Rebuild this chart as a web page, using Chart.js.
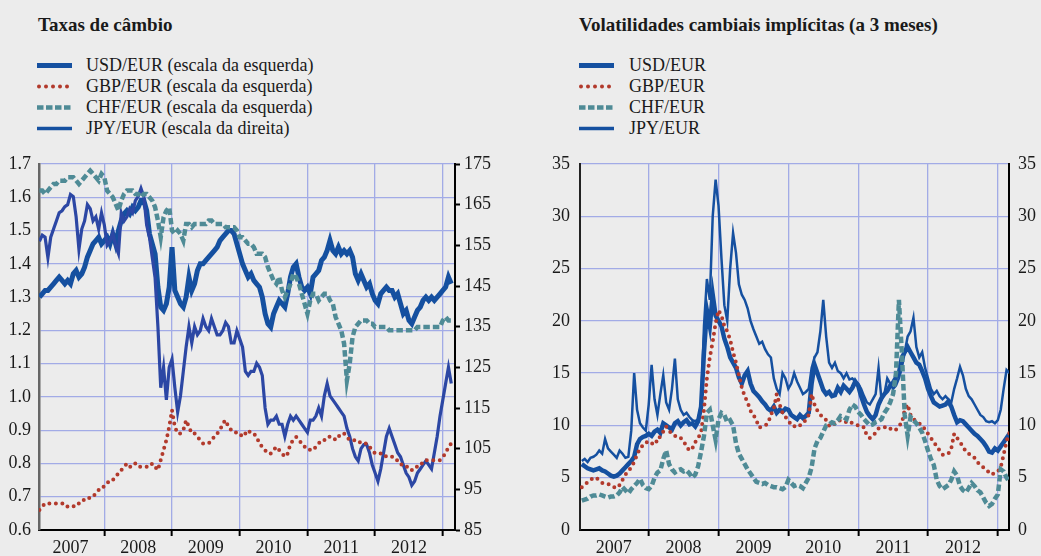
<!DOCTYPE html>
<html lang="pt">
  <head>
    <meta charset="UTF-8" />
    <title>Taxas de câmbio e volatilidades</title>
    <script src="https://cdn.jsdelivr.net/npm/chart.js"></script>
    <style>
      body {
        margin: 0;
        width: 1041px;
        height: 556px;
        overflow: hidden;
        background: #ececec;
        font-family: "Liberation Serif", "DejaVu Serif", serif;
        color: #1a1a1a;
        position: relative;
      }
      .title {
        position: absolute;
        top: 15px;
        font-weight: bold;
        font-size: 19px;
        line-height: 20px;
        white-space: nowrap;
      }
      .legend-row {
        position: absolute;
        height: 21px;
        line-height: 21px;
        font-size: 18px;
        white-space: nowrap;
      }
      .legend-row svg {
        position: absolute;
        left: 0;
        top: 0;
      }
      .legend-row span {
        position: absolute;
        top: 0;
      }
      canvas {
        position: absolute;
        top: 140px;
      }
    </style>
  </head>
  <body>
    <div class="title" style="left: 38px">Taxas de câmbio</div>
    <div class="title" style="left: 579px">Volatilidades cambiais implícitas (a 3 meses)</div>
    <div id="fxLegend"></div>
    <div id="volLegend"></div>
    <canvas id="fxChart" width="520" height="416" style="left: 0"></canvas>
    <canvas id="volChart" width="521" height="416" style="left: 520px"></canvas>

    <script>
      // half-monthly observations, starting mid-January 2007
      const years = [2007, 2008, 2009, 2010, 2011, 2012];
      const pointsPerYear = 24;

      const fxLabels = [
        "USD/EUR (escala da esquerda)",
        "GBP/EUR (escala da esquerda)",
        "CHF/EUR (escala da esquerda)",
        "JPY/EUR (escala da direita)",
      ];
      const volLabels = ["USD/EUR", "GBP/EUR", "CHF/EUR", "JPY/EUR"];

      const fxLeftTicks = [0.6, 0.7, 0.8, 0.9, 1.0, 1.1, 1.2, 1.3, 1.4, 1.5, 1.6, 1.7];
      const fxRightTicks = [85, 95, 105, 115, 125, 135, 145, 155, 165, 175];
      const volTicks = [0, 5, 10, 15, 20, 25, 30, 35];

      // taxas de câmbio
      const usdEur = [
        1.30, 1.31, 1.32, 1.32, 1.33, 1.34, 1.35, 1.36, 1.35, 1.34, 1.35, 1.34, 1.37, 1.38, 1.36, 1.37, 1.39, 1.42, 1.44, 1.46, 1.47, 1.48, 1.46, 1.47,
        1.48, 1.46, 1.49, 1.46, 1.50, 1.53, 1.55, 1.56, 1.55, 1.57, 1.56, 1.57, 1.59, 1.59, 1.56, 1.49, 1.46, 1.43, 1.33, 1.27, 1.26, 1.28, 1.33, 1.45,
        1.32, 1.30, 1.28, 1.27, 1.30, 1.36, 1.32, 1.34, 1.38, 1.40, 1.40, 1.41, 1.42, 1.43, 1.44, 1.45, 1.47, 1.48, 1.49, 1.50, 1.50, 1.49, 1.46, 1.43,
        1.40, 1.38, 1.36, 1.37, 1.35, 1.34, 1.33, 1.30, 1.25, 1.22, 1.21, 1.25, 1.27, 1.29, 1.28, 1.27, 1.31, 1.36, 1.39, 1.40, 1.36, 1.33, 1.32, 1.33,
        1.31, 1.36, 1.37, 1.38, 1.41, 1.42, 1.44, 1.47, 1.44, 1.43, 1.45, 1.43, 1.44, 1.43, 1.44, 1.42, 1.37, 1.35, 1.37, 1.35, 1.33, 1.34, 1.31, 1.29,
        1.28, 1.31, 1.32, 1.33, 1.32, 1.32, 1.30, 1.31, 1.28, 1.25, 1.26, 1.23, 1.22, 1.24, 1.26, 1.27, 1.29, 1.30, 1.29, 1.30, 1.29, 1.30, 1.31, 1.32,
        1.33, 1.36, 1.34,
      ];
      const gbpEur = [
        0.66, 0.67, 0.68, 0.68, 0.68, 0.68, 0.68, 0.68, 0.68, 0.68, 0.67, 0.67, 0.67, 0.68, 0.68, 0.69, 0.69, 0.69, 0.70, 0.70, 0.71, 0.72, 0.73, 0.73,
        0.74, 0.75, 0.75, 0.76, 0.77, 0.78, 0.79, 0.80, 0.79, 0.79, 0.80, 0.79, 0.79, 0.79, 0.79, 0.79, 0.80, 0.79, 0.78, 0.81, 0.84, 0.87, 0.91, 0.96,
        0.91, 0.89, 0.89, 0.90, 0.93, 0.91, 0.89, 0.89, 0.88, 0.87, 0.86, 0.86, 0.86, 0.87, 0.88, 0.89, 0.90, 0.92, 0.93, 0.91, 0.90, 0.90, 0.89, 0.89,
        0.88, 0.89, 0.90, 0.89, 0.89, 0.88, 0.86, 0.85, 0.84, 0.83, 0.83, 0.84, 0.85, 0.84, 0.83, 0.82, 0.83, 0.86, 0.87, 0.88, 0.87, 0.86, 0.85, 0.85,
        0.84, 0.84, 0.85, 0.86, 0.87, 0.87, 0.88, 0.88, 0.88, 0.87, 0.88, 0.89, 0.89, 0.88, 0.87, 0.87, 0.87, 0.87, 0.86, 0.86, 0.86, 0.85, 0.84, 0.83,
        0.83, 0.83, 0.83, 0.82, 0.82, 0.82, 0.81, 0.81, 0.80, 0.79, 0.79, 0.79, 0.78, 0.79, 0.79, 0.80, 0.80, 0.81, 0.81, 0.81, 0.81, 0.81, 0.81, 0.82,
        0.83, 0.85, 0.86,
      ];
      const chfEur = [
        1.62, 1.62, 1.61, 1.62, 1.63, 1.64, 1.64, 1.65, 1.65, 1.65, 1.66, 1.66, 1.66, 1.65, 1.64, 1.65, 1.66, 1.67, 1.68, 1.67, 1.66, 1.65, 1.67, 1.66,
        1.62, 1.61, 1.60, 1.58, 1.56, 1.59, 1.61, 1.62, 1.62, 1.62, 1.61, 1.61, 1.60, 1.61, 1.61, 1.60, 1.59, 1.57, 1.53, 1.48, 1.54, 1.56, 1.57, 1.50,
        1.49, 1.50, 1.49, 1.47, 1.52, 1.52, 1.51, 1.52, 1.52, 1.52, 1.52, 1.52, 1.53, 1.53, 1.52, 1.52, 1.52, 1.52, 1.51, 1.51, 1.51, 1.51, 1.50, 1.48,
        1.48, 1.47, 1.46, 1.46, 1.45, 1.43, 1.43, 1.43, 1.42, 1.39, 1.37, 1.35, 1.34, 1.36, 1.32, 1.30, 1.32, 1.34, 1.37, 1.36, 1.34, 1.31, 1.28, 1.25,
        1.29, 1.31, 1.31, 1.29, 1.30, 1.31, 1.31, 1.29, 1.28, 1.24, 1.22, 1.20, 1.16, 1.05, 1.10, 1.18, 1.21, 1.22, 1.23, 1.23, 1.23, 1.22, 1.22, 1.21,
        1.21, 1.21, 1.21, 1.21, 1.20, 1.20, 1.20, 1.20, 1.20, 1.20, 1.20, 1.20, 1.20, 1.20, 1.21, 1.21, 1.21, 1.21, 1.21, 1.21, 1.21, 1.21, 1.21, 1.23,
        1.24, 1.23, 1.23,
      ];
      const jpyEur = [
        156, 157.5, 157, 152, 157, 159, 161, 163, 163.5, 164.5, 165, 167.5, 167, 162, 154, 159, 161, 165, 164, 161, 162, 159, 163, 160,
        155, 156, 158, 155, 153, 163, 161, 162, 164, 163, 166, 167, 169, 167, 160, 157, 152, 147, 135, 120, 125, 117, 125, 127,
        120, 114, 118, 124, 130, 135, 131, 135, 133, 134, 137, 135, 134, 137, 135, 133, 133, 134, 136, 135, 131, 131, 134, 132,
        130, 124, 123, 124, 124, 126, 125, 123, 115, 111, 112, 112, 113, 111, 111, 108, 111, 113, 112, 113, 112, 111, 110, 109,
        112, 112, 113, 115, 113, 118, 121, 118, 117, 116, 115, 114, 113, 110, 108, 105, 103, 102, 105, 106, 106, 104, 101, 99,
        97, 100, 104, 108, 110, 108, 106, 104, 103, 101, 99, 98, 96, 97, 99, 100, 101, 102, 101, 100, 104, 108, 113, 117,
        121, 125, 121,
      ];

      // volatilidades implícitas a 3 meses (%)
      const volUsd = [
        6.3, 6.1, 5.9, 5.8, 5.7, 5.8, 5.9, 5.7, 5.6, 5.4, 5.2, 5.1, 5.2, 5.4, 5.7, 6.0, 6.3, 6.6, 7.0, 8.2, 8.7, 8.9, 9.0, 9.2,
        9.0, 9.4, 9.6, 9.3, 10.2, 10.0, 9.8, 9.6, 10.2, 10.4, 10.0, 10.3, 10.5, 10.1, 10.2, 9.9, 10.4, 11.8, 17.0, 21.0, 19.5, 22.5, 20.5, 20.0,
        19.5, 18.3, 17.5, 16.5, 16.0, 15.5, 14.6, 14.0, 14.8, 15.2, 14.0, 13.3, 13.0, 12.7, 12.3, 12.0, 11.6, 11.4, 11.8, 11.2, 11.5, 11.3, 11.6, 11.5,
        11.0, 10.8, 10.6, 11.0, 10.7, 10.9, 11.2, 14.0, 15.8, 15.0, 14.2, 13.4, 13.0, 13.2, 12.8, 12.9, 13.6, 13.2, 13.8, 13.5, 13.2, 13.6, 14.2, 13.8,
        12.8, 12.0, 11.3, 10.9, 10.6, 11.0, 12.0, 12.6, 13.0, 13.3, 13.8, 14.1, 14.6, 15.0, 16.5, 17.0, 17.5, 17.0, 16.5, 16.0, 15.8, 15.2, 14.5, 13.5,
        12.8, 12.2, 12.0, 11.8, 11.9, 12.0, 12.3, 11.8, 11.0, 10.3, 10.5, 10.4, 10.1, 9.8, 9.5, 9.2, 9.0, 8.7, 8.4, 8.0, 7.5, 7.4, 7.8, 7.6,
        8.0, 8.4, 8.8, 9.2,
      ];
      const volGbp = [
        4.1, 4.3, 4.6, 4.8, 5.0, 5.0, 4.7, 4.5, 4.5, 4.4, 4.3, 4.1, 4.0, 4.3, 4.8, 5.3, 5.6, 6.0, 6.5, 7.2, 7.8, 8.1, 8.4, 8.4,
        8.2, 8.6, 8.4, 9.0, 9.4, 9.9, 9.5, 9.2, 9.0, 9.0, 8.8, 8.5, 8.0, 7.6, 7.8, 8.4, 8.8, 9.3, 11.5, 14.5, 16.5, 18.0, 19.8, 21.0,
        20.5, 19.5, 19.0, 18.2, 17.0, 16.0, 14.8, 13.6, 12.8, 12.2, 11.4, 11.0, 10.5, 9.8, 9.9, 10.0, 10.2, 11.0, 11.6, 13.0, 12.0, 11.2, 10.8, 10.5,
        10.0, 9.9, 10.1, 10.0, 10.3, 10.5, 11.0, 13.0, 12.0, 11.4, 11.0, 10.8, 10.5, 10.0, 9.9, 10.2, 10.4, 10.5, 10.4, 10.3, 10.4, 10.2, 10.1, 10.0,
        10.0, 9.8, 9.0, 8.8, 9.0, 9.3, 9.7, 9.8, 9.8, 9.9, 9.7, 9.5, 9.6, 10.0, 10.2, 11.5, 12.0, 11.0, 10.6, 10.4, 10.2, 10.0, 9.6, 9.2,
        8.8, 8.4, 8.0, 7.6, 7.2, 7.2, 7.3, 7.8, 9.2, 8.8, 8.4, 8.0, 7.5, 7.3, 7.1, 6.9, 6.5, 6.2, 6.0, 5.8, 5.5, 5.3, 5.5, 5.6,
        6.0, 7.2, 8.5, 9.3,
      ];
      const volChf = [
        2.8, 2.9, 3.0, 3.2, 3.3, 3.3, 3.4, 3.3, 3.2, 3.1, 3.2, 3.2, 3.3, 3.6, 4.1, 3.8, 3.5, 3.9, 4.2, 4.5, 4.9, 4.3, 4.0, 3.9,
        4.2, 5.0, 5.5, 5.7, 6.8, 7.6, 6.3, 5.8, 5.5, 5.7, 5.8, 5.6, 5.7, 5.4, 5.0, 5.3, 6.1, 7.5, 9.0, 11.2, 11.5, 10.0, 8.6, 10.6,
        11.2, 11.0, 10.3, 10.5, 10.0, 8.3, 7.3, 6.8, 6.3, 5.8, 5.4, 5.0, 4.6, 4.5, 4.4, 4.5, 4.3, 4.2, 4.1, 4.1, 4.0, 3.9, 4.1, 4.8,
        4.5, 4.2, 4.3, 4.2, 4.0, 4.5, 5.0, 6.0, 7.8, 8.5, 8.8, 9.4, 10.0, 10.1, 10.3, 10.2, 10.5, 10.9, 10.8, 10.6, 11.5, 12.0, 11.8, 11.3,
        11.0, 10.6, 10.3, 10.0, 10.1, 10.3, 10.4, 10.6, 11.2, 11.6, 12.2, 13.0, 15.0, 22.0, 17.0, 11.0, 9.0, 10.8, 10.5, 10.2, 9.8, 9.3, 8.5, 7.6,
        6.8, 6.2, 4.8, 4.2, 3.9, 4.1, 4.3, 4.8, 5.6, 5.2, 4.2, 3.8, 3.6, 4.0, 4.5, 4.2, 3.8, 3.6, 3.1, 2.6, 2.3, 2.5, 3.0, 3.4,
        5.8, 5.6, 5.0, 4.6,
      ];
      const volJpy = [
        6.6, 6.8, 6.5, 6.9, 7.0, 7.2, 7.6, 7.3, 8.7, 7.8, 7.5, 7.2, 6.9, 7.6, 7.3, 6.9, 7.0, 9.5, 15.0, 11.5, 10.2, 9.8, 9.5, 12.0,
        15.8, 12.5, 11.0, 13.0, 14.8, 12.2, 11.5, 13.5, 16.4, 12.5, 11.5, 11.0, 11.2, 10.8, 10.5, 10.4, 10.6, 12.0, 19.5, 24.0, 22.0, 30.0, 33.5, 31.0,
        26.0, 21.5, 20.0, 25.0, 28.4, 26.5, 23.5, 22.5, 22.0, 21.2, 20.0, 19.2, 18.5, 17.8, 18.0, 17.3, 16.8, 16.5, 14.5, 13.5, 13.0, 15.0, 14.5, 13.5,
        14.0, 15.0, 14.2, 13.6, 13.0, 13.2, 13.5, 15.5, 16.5, 17.0, 19.0, 22.0, 18.5, 16.0, 15.5, 16.0, 15.2, 15.0, 14.5, 15.0, 14.4, 14.5, 14.2, 14.0,
        13.5, 12.8, 12.2, 12.0, 12.5, 13.0, 15.5, 12.5, 13.0, 14.5, 14.0, 13.5, 13.8, 14.5, 15.5, 17.0, 18.5, 19.0, 20.3, 17.5, 16.5, 17.0, 15.5, 14.5,
        13.5, 13.0, 13.3, 12.8, 12.5, 12.8, 12.5, 12.2, 13.5, 14.5, 15.6, 14.8, 13.5, 12.8, 12.5, 12.0, 11.5, 11.0, 10.8, 10.4, 10.3, 10.4, 10.2, 10.5,
        11.5, 13.5, 15.3, 15.0,
      ];

      const BLUE = "#1550a0";
      const JPY_BLUE = "#2c47a4";
      const RED = "#b23a2c";
      const TEAL = "#4f8b96";
      const GRID = "#a2abe6";
      const TEXT = "#1a1a1a";
      const FONT = { family: "'Liberation Serif', serif", size: 18 };

      function points(values) {
        return values.map((v, i) => ({ x: years[0] + (i + 1) / pointsPerYear, y: v }));
      }

      // legend swatches: [colour, width, dash, cap]
      const swatches = [
        [BLUE, 5, "", "butt"],
        [RED, 4, "0 7", "round"],
        [TEAL, 4.5, "6.5 2.5", "butt"],
        [BLUE, 3.5, "", "butt"],
      ];

      function buildLegend(el, labels, left, textLeft) {
        labels.forEach((label, i) => {
          const [col, w, dash, cap] = swatches[i];
          const row = document.createElement("div");
          row.className = "legend-row";
          row.style.left = left + "px";
          row.style.top = 55 + i * 21 + "px";
          const x1 = cap === "round" ? 2 : 0;
          row.innerHTML =
            `<svg width="36" height="21"><line x1="${x1}" y1="10.5" x2="35" y2="10.5" stroke="${col}" stroke-width="${w}"` +
            ` stroke-linecap="${cap}" stroke-dasharray="${dash}"/></svg>` +
            `<span style="left:${textLeft}px">${label}</span>`;
          el.appendChild(row);
        });
      }
      buildLegend(document.getElementById("fxLegend"), fxLabels, 37, 49);
      buildLegend(document.getElementById("volLegend"), volLabels, 579, 50);

      function yearAxis(min, max, height) {
        const isYear = (v) => Number.isInteger(v);
        return {
          type: "linear",
          position: "bottom",
          min: min,
          max: max,
          afterBuildTicks: (axis) => {
            const t = [];
            years.forEach((y) => {
              if (y >= min) t.push({ value: y });
              t.push({ value: y + 0.5 });
            });
            t.push({ value: years[years.length - 1] + 1 });
            axis.ticks = t;
          },
          afterFit: (axis) => {
            axis.height = height;
          },
          grid: {
            color: (c) => (c.tick && isYear(c.tick.value) ? GRID : "transparent"),
            tickColor: (c) => (c.tick && isYear(c.tick.value) ? "#000" : "transparent"),
            lineWidth: 1.3,
            tickLength: 6,
            tickWidth: 2,
          },
          border: { color: "#000", width: 2 },
          ticks: {
            autoSkip: false,
            maxRotation: 0,
            padding: 1,
            color: TEXT,
            font: FONT,
            callback: (v) => (isYear(v) ? "" : String(Math.floor(v))),
          },
        };
      }

      function fixedTicks(values) {
        return (axis) => {
          axis.ticks = values.map((v) => ({ value: v }));
        };
      }

      const commonOptions = {
        responsive: false,
        animation: false,
        events: [],
        plugins: { legend: { display: false }, tooltip: { enabled: false } },
        elements: { point: { radius: 0 }, line: { tension: 0 } },
      };

      new Chart(document.getElementById("fxChart"), {
        type: "line",
        data: {
          datasets: [
            { label: fxLabels[2], data: points(chfEur), yAxisID: "yL", borderColor: TEAL, borderWidth: 4.5, borderDash: [6.5, 3], order: 0 },
            { label: fxLabels[1], data: points(gbpEur), yAxisID: "yL", borderColor: RED, borderWidth: 4, borderDash: [0, 6.5], borderCapStyle: "round", order: 1 },
            { label: fxLabels[3], data: points(jpyEur), yAxisID: "yR", borderColor: JPY_BLUE, borderWidth: 3.2, order: 2 },
            { label: fxLabels[0], data: points(usdEur), yAxisID: "yL", borderColor: BLUE, borderWidth: 5, order: 3 },
          ],
        },
        options: {
          ...commonOptions,
          layout: { padding: { top: 24, left: 0, right: 0, bottom: 0 } },
          scales: {
            x: yearAxis(2007.035, 2013.18, 26),
            yL: {
              position: "left",
              min: 0.6,
              max: 1.7,
              afterBuildTicks: fixedTicks(fxLeftTicks),
              afterFit: (axis) => {
                axis.width = 39;
              },
              grid: { color: GRID, lineWidth: 1.3, drawTicks: false },
              border: { color: "#666", width: 2.5 },
              ticks: { padding: 8, color: TEXT, font: FONT, callback: (v) => v.toFixed(1) },
            },
            yR: {
              position: "right",
              min: 85,
              max: 175,
              afterBuildTicks: fixedTicks(fxRightTicks),
              afterFit: (axis) => {
                axis.width = 65;
              },
              grid: { drawOnChartArea: false, tickLength: 5, tickColor: "#000", tickWidth: 2 },
              border: { color: "#000", width: 2 },
              ticks: { padding: 4, color: TEXT, font: FONT },
            },
          },
        },
      });

      new Chart(document.getElementById("volChart"), {
        type: "line",
        data: {
          datasets: [
            { label: volLabels[2], data: points(volChf), yAxisID: "yL", borderColor: TEAL, borderWidth: 4.5, borderDash: [6.5, 3], order: 0 },
            { label: volLabels[1], data: points(volGbp), yAxisID: "yL", borderColor: RED, borderWidth: 4, borderDash: [0, 6.5], borderCapStyle: "round", order: 1 },
            { label: volLabels[3], data: points(volJpy), yAxisID: "yL", borderColor: BLUE, borderWidth: 2.5, order: 2 },
            { label: volLabels[0], data: points(volUsd), yAxisID: "yL", borderColor: BLUE, borderWidth: 4.5, order: 3 },
          ],
        },
        options: {
          ...commonOptions,
          layout: { padding: { top: 24, left: 0, right: 0, bottom: 0 } },
          scales: {
            x: yearAxis(2007.016, 2013.16, 26),
            yL: {
              position: "left",
              min: 0,
              max: 35,
              afterBuildTicks: fixedTicks(volTicks),
              afterFit: (axis) => {
                axis.width = 60;
              },
              grid: { color: GRID, lineWidth: 1.3, drawTicks: false },
              border: { color: "#222", width: 2 },
              ticks: { padding: 10, color: TEXT, font: FONT },
            },
            yR: {
              position: "right",
              min: 0,
              max: 35,
              afterBuildTicks: fixedTicks(volTicks),
              afterFit: (axis) => {
                axis.width = 32;
              },
              grid: { drawOnChartArea: false, drawTicks: false },
              border: { color: "#000", width: 2 },
              ticks: { padding: 9, color: TEXT, font: FONT },
            },
          },
        },
      });
    </script>
  </body>
</html>
